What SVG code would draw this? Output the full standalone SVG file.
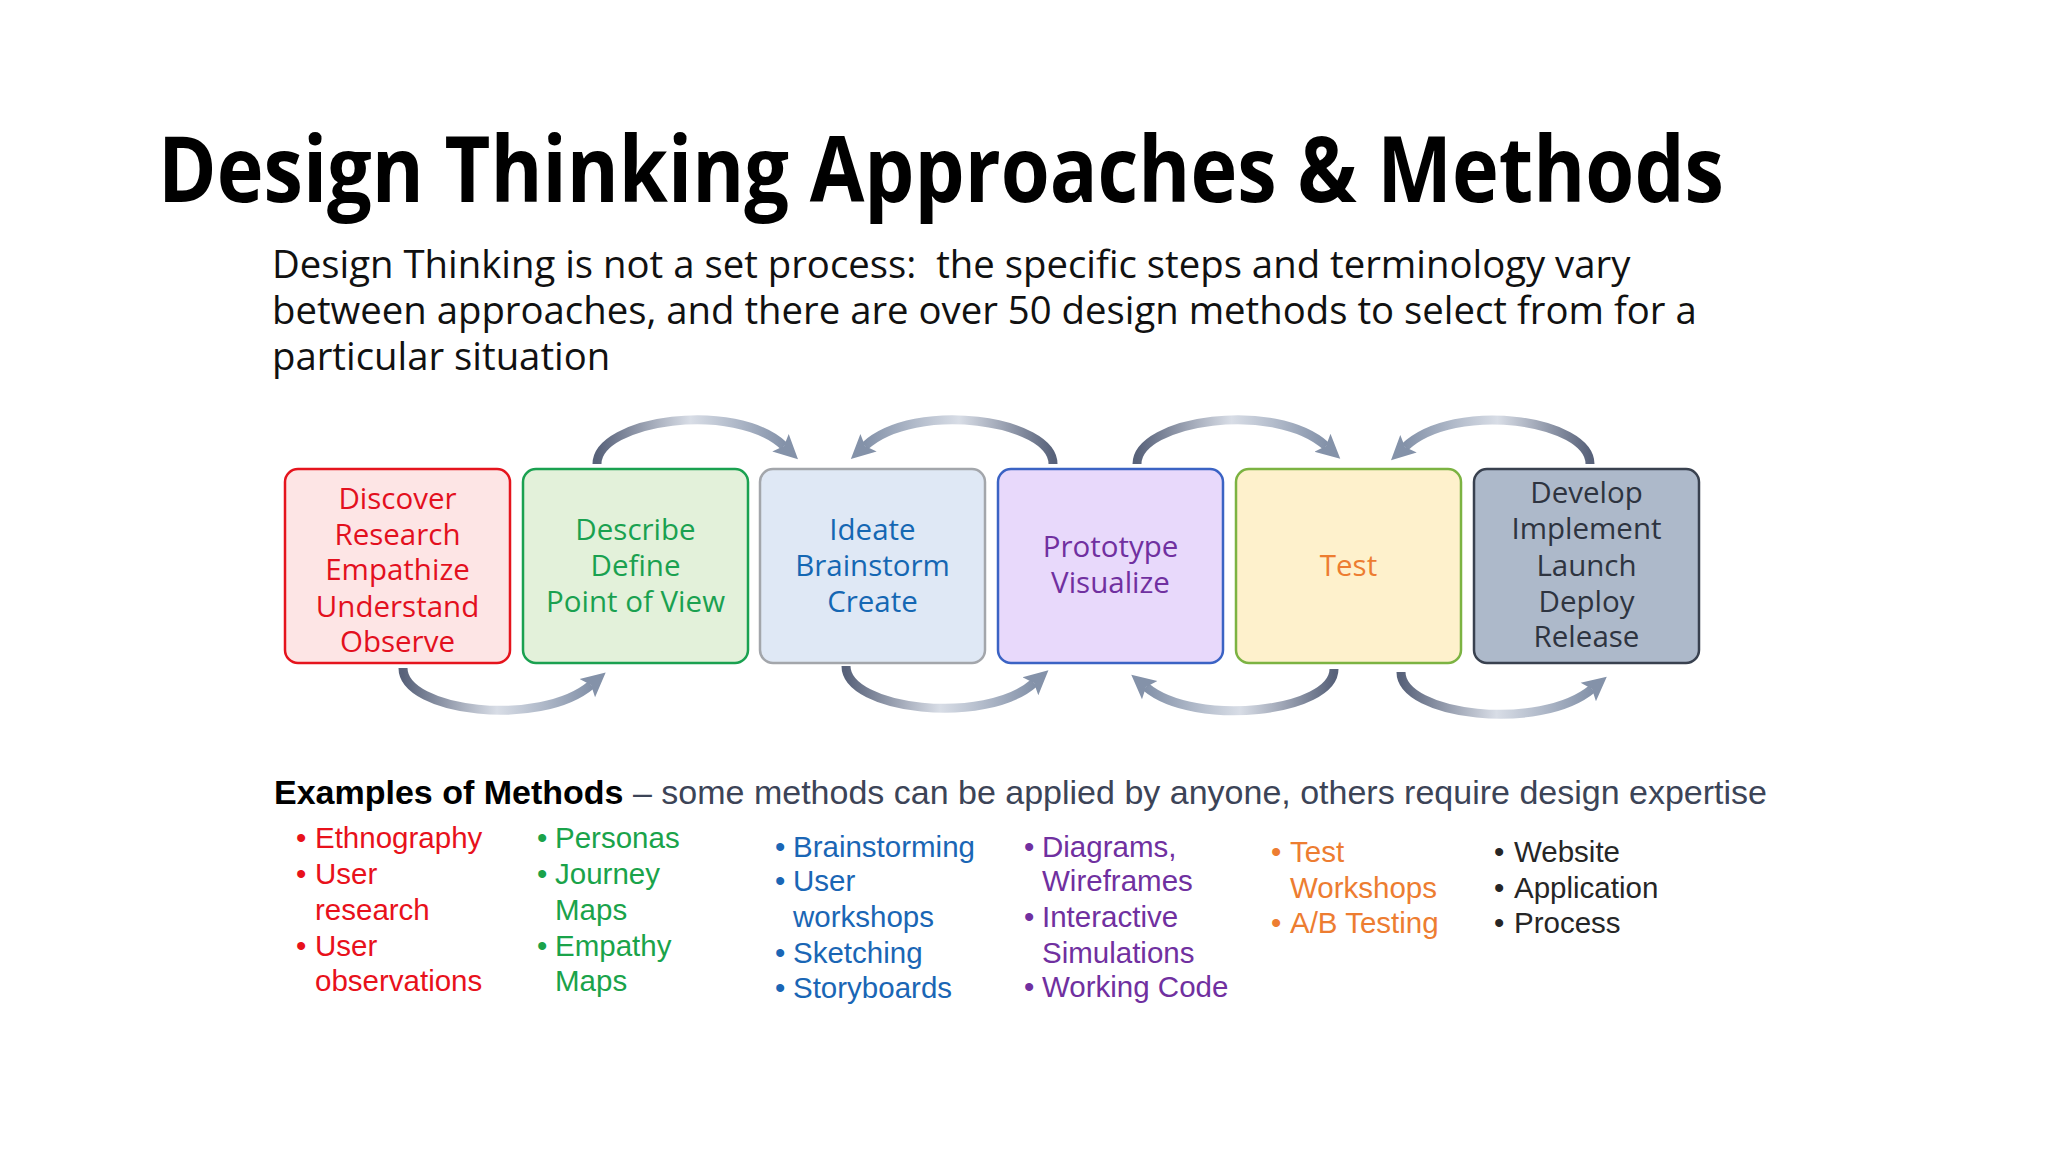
<svg xmlns="http://www.w3.org/2000/svg" width="2048" height="1152" viewBox="0 0 2048 1152">
<defs>
<style>
.title{font-family:"Open Sans","Noto Sans",sans-serif;font-weight:700;font-size:92px;fill:#000}
.sub{font-family:"Open Sans","Noto Sans",sans-serif;font-size:38.3px;fill:#111;white-space:pre}
.bx{font-family:"Open Sans","Noto Sans",sans-serif;font-size:29.5px;text-anchor:middle}
.m{font-family:"Liberation Sans",Arial,sans-serif;font-size:29.5px}
.hd{font-family:"Liberation Sans",Arial,sans-serif;font-size:34px}
.arr{fill:none;stroke-width:9;stroke-linecap:butt}
</style>
<linearGradient id="gLR" x1="0" y1="0" x2="1" y2="0">
<stop offset="0" stop-color="#58627a"/>
<stop offset="0.5" stop-color="#d8dde6"/>
<stop offset="1" stop-color="#8492a9"/>
</linearGradient>
<linearGradient id="gRL" x1="1" y1="0" x2="0" y2="0">
<stop offset="0" stop-color="#58627a"/>
<stop offset="0.5" stop-color="#d8dde6"/>
<stop offset="1" stop-color="#8492a9"/>
</linearGradient>
<marker id="ah" viewBox="0 0 10 10" refX="2" refY="5" markerUnits="userSpaceOnUse" markerWidth="24" markerHeight="28" orient="auto">
<path d="M0,0 L10,5 L0,10 L2,5 z" fill="#8492a9"/>
</marker>
</defs>
<rect width="2048" height="1152" fill="#fff"/>

<text class="title" x="158" y="202" textLength="1566" lengthAdjust="spacingAndGlyphs">Design Thinking Approaches &amp; Methods</text>
<g id="subtitle">
<text class="sub" x="272" y="278" xml:space="preserve">Design Thinking is not a set process:  the specific steps and terminology vary</text>
<text class="sub" x="272" y="324">between approaches, and there are over 50 design methods to select from for a</text>
<text class="sub" x="272" y="370">particular situation</text>
</g>

<g id="connectors">
<path class="arr" stroke="url(#gLR)" marker-end="url(#ah)" d="M597,464 C597,420 735,400 784,446"/>
<path class="arr" stroke="url(#gRL)" marker-end="url(#ah)" d="M1053,464 C1053,420 915,400 865,446"/>
<path class="arr" stroke="url(#gLR)" marker-end="url(#ah)" d="M1137,464 C1137,420 1275,400 1326,446"/>
<path class="arr" stroke="url(#gRL)" marker-end="url(#ah)" d="M1590,464 C1590,420 1455,400 1405,447"/>
<path class="arr" stroke="url(#gLR)" marker-end="url(#ah)" d="M403,668 C403,712 540,728 591,685"/>
<path class="arr" stroke="url(#gLR)" marker-end="url(#ah)" d="M846,666 C846,710 985,726 1034,683"/>
<path class="arr" stroke="url(#gRL)" marker-end="url(#ah)" d="M1334,669 C1334,712 1195,728 1146,687"/>
<path class="arr" stroke="url(#gLR)" marker-end="url(#ah)" d="M1401,672 C1401,716 1540,732 1592,689"/>
</g>

<g id="discover">
<rect x="285" y="469" width="225" height="194" rx="13" fill="#fde5e5" stroke="#e5141d" stroke-width="2.5"/>
<text class="bx" fill="#e3101e"><tspan x="397.5" y="509">Discover</tspan><tspan x="397.5" y="545">Research</tspan><tspan x="397.5" y="580">Empathize</tspan><tspan x="397.5" y="617">Understand</tspan><tspan x="397.5" y="652">Observe</tspan></text>
</g>
<g id="describe">
<rect x="523" y="469" width="225" height="194" rx="13" fill="#e3f1da" stroke="#1aa150" stroke-width="2.5"/>
<text class="bx" fill="#1aa150"><tspan x="635.5" y="540">Describe</tspan><tspan x="635.5" y="576">Define</tspan><tspan x="635.5" y="612">Point of View</tspan></text>
</g>
<g id="ideate">
<rect x="760" y="469" width="225" height="194" rx="13" fill="#dfe8f5" stroke="#a3a6ab" stroke-width="2.5"/>
<text class="bx" fill="#1567b3"><tspan x="872.5" y="540">Ideate</tspan><tspan x="872.5" y="576">Brainstorm</tspan><tspan x="872.5" y="612">Create</tspan></text>
</g>
<g id="prototype">
<rect x="998" y="469" width="225" height="194" rx="13" fill="#e8d9fb" stroke="#3b63c4" stroke-width="2.5"/>
<text class="bx" fill="#7030a0"><tspan x="1110.5" y="557">Prototype</tspan><tspan x="1110.5" y="593">Visualize</tspan></text>
</g>
<g id="test">
<rect x="1236" y="469" width="225" height="194" rx="13" fill="#fef1cc" stroke="#7cb342" stroke-width="2.5"/>
<text class="bx" fill="#ed7d31" x="1348.5" y="576">Test</text>
</g>
<g id="develop">
<rect x="1474" y="469" width="225" height="194" rx="13" fill="#adb9ca" stroke="#39414f" stroke-width="2.5"/>
<text class="bx" fill="#2e3440"><tspan x="1586.5" y="503">Develop</tspan><tspan x="1586.5" y="539">Implement</tspan><tspan x="1586.5" y="576">Launch</tspan><tspan x="1586.5" y="612">Deploy</tspan><tspan x="1586.5" y="647">Release</tspan></text>
</g>

<g id="methods">
<text class="hd" x="274" y="804"><tspan font-weight="700" fill="#000">Examples of Methods</tspan><tspan fill="#3c4457"> – some methods can be applied by anyone, others require design expertise</tspan></text>
<g fill="#e8111b">
<text class="m" x="296" y="848">•</text><text class="m" x="315" y="848">Ethnography</text>
<text class="m" x="296" y="884">•</text><text class="m" x="315" y="884">User</text>
<text class="m" x="315" y="920">research</text>
<text class="m" x="296" y="956">•</text><text class="m" x="315" y="956">User</text>
<text class="m" x="315" y="991">observations</text>
</g>
<g fill="#1aa34a">
<text class="m" x="537" y="848">•</text><text class="m" x="555" y="848">Personas</text>
<text class="m" x="537" y="884">•</text><text class="m" x="555" y="884">Journey</text>
<text class="m" x="555" y="920">Maps</text>
<text class="m" x="537" y="956">•</text><text class="m" x="555" y="956">Empathy</text>
<text class="m" x="555" y="991">Maps</text>
</g>
<g fill="#1a66b5">
<text class="m" x="775" y="857">•</text><text class="m" x="793" y="857">Brainstorming</text>
<text class="m" x="775" y="891">•</text><text class="m" x="793" y="891">User</text>
<text class="m" x="793" y="927">workshops</text>
<text class="m" x="775" y="963">•</text><text class="m" x="793" y="963">Sketching</text>
<text class="m" x="775" y="998">•</text><text class="m" x="793" y="998">Storyboards</text>
</g>
<g fill="#7030a0">
<text class="m" x="1024" y="857">•</text><text class="m" x="1042" y="857">Diagrams,</text>
<text class="m" x="1042" y="891">Wireframes</text>
<text class="m" x="1024" y="927">•</text><text class="m" x="1042" y="927">Interactive</text>
<text class="m" x="1042" y="963">Simulations</text>
<text class="m" x="1024" y="997">•</text><text class="m" x="1042" y="997">Working Code</text>
</g>
<g fill="#ed7d31">
<text class="m" x="1271" y="862">•</text><text class="m" x="1290" y="862">Test</text>
<text class="m" x="1290" y="898">Workshops</text>
<text class="m" x="1271" y="933">•</text><text class="m" x="1290" y="933">A/B Testing</text>
</g>
<g fill="#262626">
<text class="m" x="1494" y="862">•</text><text class="m" x="1514" y="862">Website</text>
<text class="m" x="1494" y="898">•</text><text class="m" x="1514" y="898">Application</text>
<text class="m" x="1494" y="933">•</text><text class="m" x="1514" y="933">Process</text>
</g>
</g>
</svg>
